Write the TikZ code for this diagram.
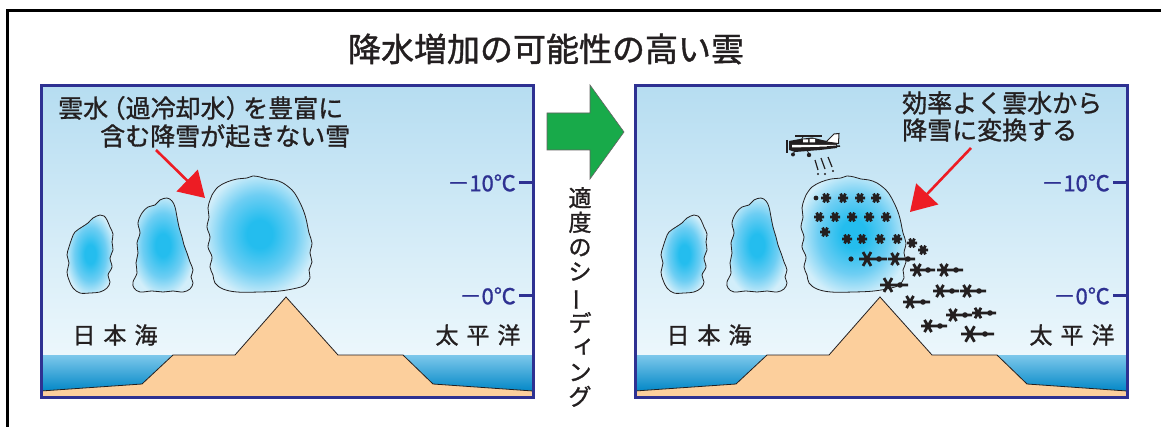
\documentclass[tikz,border=0pt]{standalone}
\usepackage{fontspec}
\setmainfont{Noto Sans CJK JP}[FakeBold=1.2]
\usetikzlibrary{arrows.meta,positioning,calc}

\definecolor{ink}{RGB}{35,31,32}
\definecolor{navy}{RGB}{46,49,146}
\definecolor{skytop}{RGB}{182,221,241}
\definecolor{skybot}{RGB}{236,247,252}
\definecolor{seatop}{RGB}{125,200,235}
\definecolor{seabot}{RGB}{0,134,198}
\definecolor{land}{RGB}{252,207,156}
\definecolor{cloudcore}{RGB}{36,189,238}
\definecolor{cloudmid}{RGB}{110,206,243}
\definecolor{cloudrim}{RGB}{210,238,250}
\definecolor{arrowgreen}{RGB}{24,170,74}
\definecolor{alertred}{RGB}{237,28,36}

\pgfdeclareradialshading{puff}{\pgfpoint{0bp}{0bp}}{color(0bp)=(cloudcore); color(6bp)=(cloudcore);
  color(17bp)=(cloudmid); color(27bp)=(cloudrim); color(50bp)=(cloudrim)}

\tikzset{
  panelframe/.style={draw=navy, line width=3pt},
  cloudpuff/.style={draw=ink, line width=0.8pt, shading=puff},
  redarrow/.style={draw=alertred, line width=2.6pt, -{Triangle[length=25pt,width=30pt]}},
  templabel/.style={text=navy, font=\fontsize{22}{24}\selectfont, anchor=east, inner sep=0pt},
  sealabel/.style={text=ink, font=\fontsize{23}{25}\selectfont, inner sep=0pt},
  notetext/.style={text=ink, font=\fontsize{25}{26}\selectfont, anchor=west, inner sep=0pt},
  flake/.style={draw=ink, line width=2.8pt},
  seeding/.style={draw=ink, line width=1.2pt},
}

% sky, sea, land, clouds and scale of one panel
\newcommand{\basescene}[1]{%
  \shade[top color=skytop, bottom color=skybot] (41,86) rectangle (533,355);
  \shade[top color=seatop, bottom color=seabot] (41,355) rectangle (533,392);
  \fill[land] (41,391) -- (142,384) -- (173,355) -- (235,355) -- (286,297) -- (338,355)
    -- (403,355) -- (433,384) -- (533,391) -- (533,397) -- (41,397) -- cycle;
  \draw[ink, line width=0.8pt] (41,391) -- (142,384) -- (173,355) -- (235,355) -- (286,297)
    -- (338,355) -- (403,355) -- (433,384) -- (533,391);
  \shadedraw[cloudpuff] plot[smooth cycle, tension=0.6] coordinates {(100,215) (93,218) (88,223)
    (82,227) (75,232) (72,238) (69,247) (67,255) (69,263) (67,272) (69,280) (73,288) (80,293)
    (90,293) (100,292) (107,288) (110,282) (108,275) (112,267) (110,258) (113,250) (112,242)
    (113,234) (110,227) (107,220) (104,216)};
  \shadedraw[cloudpuff] plot[smooth cycle, tension=0.6] coordinates {(167,198) (160,200) (155,205)
    (148,207) (142,213) (138,223) (140,233) (137,243) (138,253) (136,263) (137,273) (133,282)
    (134,288) (140,292) (152,291) (163,292) (173,291) (183,292) (190,289) (193,283) (191,277)
    (193,270) (190,262) (187,253) (184,245) (182,237) (179,227) (177,217) (175,207) (172,201)};
  \shadedraw[cloudpuff] plot[smooth cycle, tension=0.6] coordinates {(210,200) (212,195) (218,187)
    (227,182) (237,179) (247,178) (253,176) (260,177) (267,179) (275,180) (283,183) (292,190)
    (297,197) (302,207) (305,215) (307,223) (309,233) (312,243) (310,253) (312,262) (309,270)
    (310,278) (305,285) (297,288) (280,291) (260,292) (237,292) (223,289) (215,283) (213,275)
    (210,267) (212,257) (208,247) (210,237) (207,227) (209,217) (208,208)};
  \node[sealabel] (#1japan) at (115,335) {日\hspace{8pt}本\hspace{8pt}海};
  \node[sealabel] (#1pacific) at (478,335) {太\hspace{8pt}平\hspace{8pt}洋};
  \node[templabel] (#1ten) at (516,183) {－10℃};
  \node[templabel] (#1zero) at (516,296) {－0℃};
  \draw[navy, line width=3pt] (519,183) -- (533,183) (519,296) -- (533,296);
  \draw[panelframe] (41,86) rectangle (533,397);
}

\begin{document}
\begin{tikzpicture}[x=1pt, y=-1pt]
\useasboundingbox (0,0) rectangle (1161,427);
\fill[white] (0,0) rectangle (1161,427);
\draw[black, line width=2.8pt] (7.5,427) -- (7.5,10.5) -- (1161,10.5);

\node[text=ink, font=\fontsize{33}{36}\selectfont, inner sep=0pt] (title) at (546,49) {降水増加の可能性の高い雲};

% before seeding
\basescene{l}
\node[notetext] (notela) at (58,108) {雲水\makebox[0.7em][r]{（}過冷却水\makebox[0.7em][l]{）}を豊富に};
\node[notetext] (notelb) at (100,136) {含む降雪が起きない雪};
\coordinate (fromL) at (156,150);
\coordinate (tipL) at (205,198);
\draw[redarrow] (fromL) -- (tipL);

% seeding step
\filldraw[fill=arrowgreen, draw=ink!70, line width=0.6pt] (547,113) -- (590,113) -- (590,85)
  -- (624,132) -- (590,179) -- (590,150) -- (547,150) -- cycle;
\node[text=ink, font=\fontsize{23}{24.5}\selectfont, align=center, inner sep=0pt] (seedtext) at (580,297)
  {適\\度\\の\\シ\\\rotatebox[origin=c]{90}{ー}\\デ\\\makebox[1em]{\hspace{0.3em}\raisebox{0.15em}{ィ}}\\ン\\グ};

% after seeding
\begin{scope}[shift={(594,0)}]
  \basescene{r}
\end{scope}
\node[notetext] (notera) at (902,103) {効率よく雲水から};
\node[notetext] (noterb) at (902,130) {降雪に変換する};
\coordinate (fromR) at (971,148);
\coordinate (tipR) at (910,212);
\draw[redarrow] (fromR) -- (tipR);

% plane
\fill[ink] (789,141) -- (800,139) -- (812,137.5) -- (822,140) -- (837,143) -- (837,148)
  -- (820,150) -- (795,152) -- (789,150) -- cycle;
\fill[white] (792,145) -- (836,145) -- (836,146.3) -- (792,147.5) -- cycle;
\fill[white] (803,139.5) rectangle (808,142.5) (809.5,139) rectangle (815,142.5);
\draw[ink, line width=2pt] (795,136) -- (822,136);
\filldraw[fill=white, draw=ink, line width=1pt] (826,142) -- (834,134) -- (839,133.5) -- (838.5,143.5) -- cycle;
\draw[ink, line width=1.5pt] (827,147) -- (840,146);
\draw[ink, line width=1.2pt] (787,140) -- (787,153);
\draw[ink, line width=0.8pt] (795,151) -- (793,154) (807,150) -- (809,154) (803,137) -- (801,140);
\fill[ink] (793,154.5) circle (2) (809,155) circle (2.2);
\draw[seeding] (815,160) -- (818,170) (821,158) -- (825,169) (828,157) -- (832,167);
\fill[ink] (818,174) circle (1.1) (825,174) circle (1.1) (833,171) circle (1.1);

% snow crystals
\fill[ink] (816,198) circle (2.4) (851,259) circle (2.6);
\foreach \x/\y/\r/\d in {826/198/5/0, 843/198/5/0, 860/198/5/0, 876/198/5/0,
    819/217/5/0, 835/217/5/0, 852/217/5/0, 869/217/5/0, 886/217/5/0, 825/232/5/0,
    847/239/5/0, 862/239/5/0, 880/239/5/0, 897/239/5/0, 912/243/5/0, 923/250/5/0,
    867/259/8/12, 895/259/7/13, 917/270/7/11, 944/270/7/12,
    888/285/8/12, 940/291/7/12, 967/291/7/12, 910/302/7/13,
    953/315/7/12, 978/313/6/12, 928/326/7/12, 970/334/9/15}{
  \draw[flake, shift={(\x,\y)}] (-\r,0) -- (\r+\d,0) (60:\r) -- (240:\r) (120:\r) -- (300:\r);
  \fill[ink] (\x+\d,\y) circle (2.8);
}
\end{tikzpicture}
\end{document}
